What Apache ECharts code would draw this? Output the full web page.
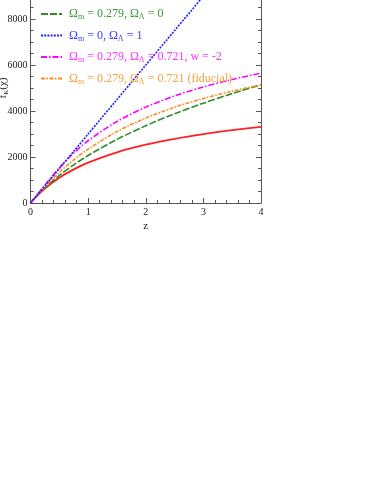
<!DOCTYPE html>
<html>
<head>
<meta charset="utf-8">
<script src="https://cdn.jsdelivr.net/npm/echarts@6/dist/echarts.min.js"></script>
<style>
	html, body {margin: 0; padding: 0; background: #fff;}
	#chart {width: 382px; height: 494px;}
</style>
</head>
<body>
<div id="chart"></div>
<script>
// redshift samples shared by all curves
const zValues = [0, 0.1, 0.25, 0.5, 0.75, 1, 1.5, 2, 2.5, 3, 3.5, 4];

// f_K(chi)
const eds = [0, 279, 633, 1100, 1464, 1756, 2204, 2534, 2791, 2998, 3169, 3314];
const openModel = [0, 284, 662, 1200, 1661, 2067, 2766, 3360, 3879, 4341, 4758, 5138];
const lambdaOnly = [0, 300, 749, 1499, 2248, 2998, 4497, 5996, 7495, 8994, 10493, 11992];
const phantom = [0, 308, 781, 1527, 2169, 2706, 3545, 4168, 4654, 5045, 5370, 5644];
const fiducial = [0, 293, 708, 1332, 1873, 2342, 3104, 3694, 4162, 4545, 4864, 5135];

const yTicks = [0, 2000, 4000, 6000, 8000];
const xTicks = [0, 1, 2, 3, 4];

const serif = 'Liberation Serif';

function pairs(vals) {
	return zValues.map(function (z, i) {
		return [z, vals[i]];
	});
}

function lineSeries(name, vals, color, type, width) {
	return {
		name,
		type: 'line',
		data: pairs(vals),
		smooth: 0.3,
		symbol: 'none',
		showSymbol: false,
		clip: true,
		lineStyle: {color, type, width: width || 1.6},
		itemStyle: {color},
	};
}

const legendNames = [
	'Ωm = 0.279, ΩΛ = 0',
	'Ωm = 0, ΩΛ = 1',
	'Ωm = 0.279, ΩΛ = 0.721, w = -2',
	'Ωm = 0.279, ΩΛ = 0.721 (fiducial)',
];
const legendColors = ['#3a9a3a', '#3a3aff', '#ff33ff', '#f7a040'];

const axisColor = '#555';
const labelStyle = {fontFamily: serif, fontSize: 10, color: '#222'};

const myChart = echarts.init(document.getElementById('chart'));
myChart.setOption({
	animation: false,
	textStyle: {fontFamily: serif},
	// the plot's upper part lies above the visible frame
	grid: {left: 30.5, top: -27, width: 230.5, height: 230, outerBoundsMode: 'none', containLabel: false},
	legend: {
		orient: 'vertical',
		left: 40,
		top: 8,
		padding: 0,
		itemWidth: 21,
		itemHeight: 12,
		itemGap: 8.5,
		itemStyle: {opacity: 0},
		data: legendNames.map(function (n, i) {
			return {name: n, textStyle: {color: legendColors[i]}};
		}),
		formatter: function (name) {
			return name.replace(/Ω(m|Λ)/g, '{o|Ω}{s|$1}');
		},
		textStyle: {
			fontFamily: serif,
			fontSize: 12,
			padding: [0, 0, 0, 2],
			rich: {
				o: {fontFamily: serif, fontSize: 12},
				s: {fontFamily: serif, fontSize: 8, padding: [6, 0, 0, 0]},
			},
		},
	},
	xAxis: {
		type: 'value',
		min: 0,
		max: 4,
		interval: 1,
		name: 'z',
		nameLocation: 'middle',
		nameGap: 18,
		nameTextStyle: {fontFamily: serif, fontSize: 11, color: '#222'},
		axisLine: {show: true, lineStyle: {color: axisColor}},
		axisTick: {inside: true, length: 5, lineStyle: {color: axisColor}},
		minorTick: {show: true, splitNumber: 5, length: 3, lineStyle: {color: axisColor}},
		axisLabel: Object.assign({margin: 4, formatter: function (v) {
			return xTicks.indexOf(v) >= 0 ? String(v) : '';
		}}, labelStyle),
		splitLine: {show: false},
	},
	yAxis: [
		{
			type: 'value',
			min: 0,
			max: 10000,
			interval: 2000,
			name: '{f|f}{k|K}{f|(χ)}',
			nameLocation: 'middle',
			nameRotate: 90,
			nameGap: 21,
			nameMoveOverlap: false,
			nameTextStyle: {
				fontFamily: serif,
				color: '#222',
				rich: {
					f: {fontFamily: serif, fontSize: 11},
					k: {fontFamily: serif, fontSize: 7, padding: [5, 0, 0, 0]},
				},
			},
			axisLine: {show: true, lineStyle: {color: axisColor}},
			axisTick: {inside: true, length: 5, lineStyle: {color: axisColor}},
			minorTick: {show: true, splitNumber: 4, length: 3, lineStyle: {color: axisColor}},
			axisLabel: Object.assign({margin: 3, showMaxLabel: false, formatter: function (v) {
				return yTicks.indexOf(v) >= 0 ? String(v) : '';
			}}, labelStyle),
			splitLine: {show: false},
		},
		{
			type: 'value',
			position: 'right',
			min: 0,
			max: 10000,
			interval: 2000,
			axisLine: {show: true, lineStyle: {color: axisColor}},
			axisTick: {inside: true, length: 5, lineStyle: {color: axisColor}},
			minorTick: {show: true, splitNumber: 4, length: 3, lineStyle: {color: axisColor}},
			axisLabel: {show: false},
			splitLine: {show: false},
		},
	],
	series: [
		lineSeries('EdS', eds, '#ff2020', 'solid', 1.8),
		lineSeries(legendNames[0], openModel, '#2e8b2e', [7, 2]),
		lineSeries(legendNames[3], fiducial, '#ff8c1a', [4, 1.5, 1.5, 1.5]),
		lineSeries(legendNames[2], phantom, '#ff00ff', [6, 2, 1.5, 2]),
		lineSeries(legendNames[1], lambdaOnly, '#2020ff', [2, 1.2]),
	],
});
</script>
</body>
</html>
